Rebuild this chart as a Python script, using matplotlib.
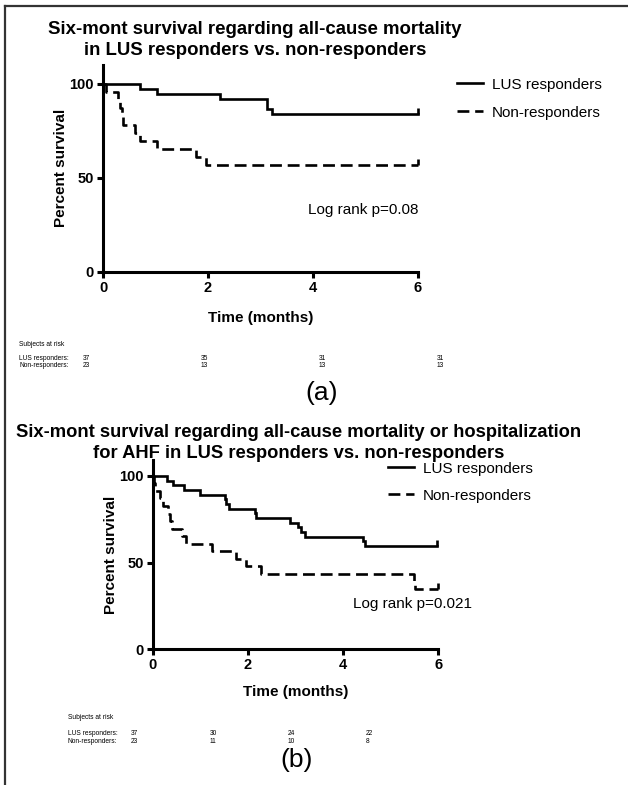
import numpy as np
import matplotlib.pyplot as plt
from matplotlib.lines import Line2D

plt.rcParams['font.family'] = ['Liberation Sans', 'DejaVu Sans']

W, H = 628, 785

# (a) all-cause mortality
a_lus_t = [0, 0.70, 1.02, 2.22, 3.13, 3.22, 6.0]
a_lus_s = [100, 97.3, 94.6, 91.9, 86.5, 83.8, 83.8]
a_non_t = [0, 0.05, 0.29, 0.33, 0.37, 0.39, 0.61, 0.70, 1.02, 1.78, 1.97, 6.0]
a_non_s = [100, 95.7, 91.3, 87.0, 82.6, 78.3, 73.9, 69.6, 65.2, 60.9, 56.5, 56.5]

# (b) all-cause mortality or hospitalization for AHF
b_lus_t = [0, 0.31, 0.42, 0.65, 0.99, 1.52, 1.55, 1.60, 2.15, 2.18, 2.88, 3.05,
           3.12, 3.20, 4.42, 4.45, 5.97]
b_lus_s = [100, 97.3, 94.6, 91.9, 89.2, 86.5, 83.8, 81.1, 78.4, 75.7, 73.0, 70.3,
           67.6, 64.9, 62.2, 59.5, 59.5]
b_non_t = [0, 0.02, 0.05, 0.15, 0.22, 0.33, 0.37, 0.40, 0.62, 0.70, 1.25, 1.75,
           1.97, 2.28, 5.48, 5.50, 6.0]
b_non_s = [100, 95.7, 91.3, 87.0, 82.6, 78.3, 73.9, 69.6, 65.2, 60.9, 56.5, 52.2,
           47.8, 43.5, 39.1, 34.8, 34.8]

risk_times = [0, 2, 4, 6]
a_risk_lus = [37, 35, 31, 31]
a_risk_non = [23, 13, 13, 13]
b_risk_lus = [37, 30, 24, 22]
b_risk_non = [23, 11, 10, 8]

groups = ['LUS responders', 'Non-responders']


def box(x0, y0, x1, y1):
    # pixel box (top-left origin) -> figure rect
    return [x0 / W, 1 - y1 / H, (x1 - x0) / W, (y1 - y0) / H]


fig = plt.figure(figsize=(W / 100, H / 100), dpi=100)

# frame lines (left and top only)
fig.add_artist(Line2D([5 / W, 5 / W], [0, 1 - 6 / H], color='#333333', lw=1.6))
fig.add_artist(Line2D([5 / W, 1], [1 - 6 / H, 1 - 6 / H], color='#333333', lw=1.6))


def km_panel(rect, ytop, lus_t, lus_s, non_t, non_s, xpad):
    ax = fig.add_axes(rect)
    ax.step(lus_t, lus_s, where='post', color='black', lw=1.9, clip_on=False,
            solid_joinstyle='miter', label=groups[0])
    ax.step(non_t, non_s, where='post', color='black', lw=1.9, clip_on=False,
            ls=(0, (4.5, 2.2)), label=groups[1])
    ax.plot(lus_t[-1], lus_s[-1], marker=2, ms=4, mew=1.9, color='black', clip_on=False)
    ax.plot(non_t[-1], non_s[-1], marker=2, ms=4, mew=1.9, color='black', clip_on=False)
    ax.set_xlim(0, 6)
    ax.set_ylim(0, ytop)
    ax.set_xticks([0, 2, 4, 6])
    ax.set_yticks([0, 50, 100])
    for s in ['top', 'right']:
        ax.spines[s].set_visible(False)
    for s in ['left', 'bottom']:
        ax.spines[s].set_linewidth(2.2)
    ax.tick_params(width=2.2, length=4.5, pad=2, labelsize=10.5)
    for lab in ax.get_xticklabels() + ax.get_yticklabels():
        lab.set_fontweight('bold')
    ax.set_xlabel('Time (months)', fontsize=11, fontweight='bold', labelpad=xpad)
    ax.set_ylabel('Percent survival', fontsize=11, fontweight='bold', labelpad=1)
    return ax


def risk_table(rect, lab_x, nums_lus, nums_non):
    ax = fig.add_axes(rect)
    ax.set_xlim(0, 6)
    ax.set_ylim(0, 3)
    ax.axis('off')
    tr = ax.get_yaxis_transform()
    ax.text(lab_x, 2.6, 'Subjects at risk', fontsize=4.8, transform=tr, va='center')
    ax.text(lab_x, 1.2, groups[0] + ':', fontsize=4.8, transform=tr, va='center')
    ax.text(lab_x, 0.45, groups[1] + ':', fontsize=4.8, transform=tr, va='center')
    for t, n1, n2 in zip(risk_times, nums_lus, nums_non):
        ax.text(t, 1.2, str(n1), fontsize=4.8, va='center')
        ax.text(t, 0.45, str(n2), fontsize=4.8, va='center')


# ---- panel (a)
fig.text(255 / W, 1 - 40 / H,
         'Six-mont survival regarding all-cause mortality\nin LUS responders vs. non-responders',
         ha='center', va='center', fontsize=13.4, fontweight='bold', linespacing=1.28)
ax1 = km_panel(box(103, 65, 418, 271.5), 110, a_lus_t, a_lus_s, a_non_t, a_non_s, 12)
ax1.text(6, 33, 'Log rank p=0.08', ha='right', va='center', fontsize=11)
ax1.legend(loc='upper left', bbox_to_anchor=(443 / W, 1 - 64 / H),
           bbox_transform=fig.transFigure, frameon=False, fontsize=11,
           handlelength=1.7, labelspacing=0.9, handletextpad=0.6)
risk_table(box(83, 340, 437, 370), -0.18, a_risk_lus, a_risk_non)
fig.text(322 / W, 1 - 393 / H, '(a)', ha='center', va='center', fontsize=19)

# ---- panel (b)
fig.text(299 / W, 1 - 443 / H,
         'Six-mont survival regarding all-cause mortality or hospitalization\n'
         'for AHF in LUS responders vs. non-responders',
         ha='center', va='center', fontsize=13.2, fontweight='bold', linespacing=1.28)
ax2 = km_panel(box(152.7, 460, 438.3, 649.3), 109.2, b_lus_t, b_lus_s, b_non_t, b_non_s, 9)
ax2.text(6.7, 26, 'Log rank p=0.021', ha='right', va='center', fontsize=11)
ax2.legend(loc='upper left', bbox_to_anchor=(374 / W, 1 - 448 / H),
           bbox_transform=fig.transFigure, frameon=False, fontsize=11,
           handlelength=1.7, labelspacing=0.85, handletextpad=0.6)
risk_table(box(131, 713, 366, 747), -0.27, b_risk_lus, b_risk_non)
fig.text(297 / W, 1 - 760 / H, '(b)', ha='center', va='center', fontsize=19)

fig.savefig('out.png', dpi=100)
